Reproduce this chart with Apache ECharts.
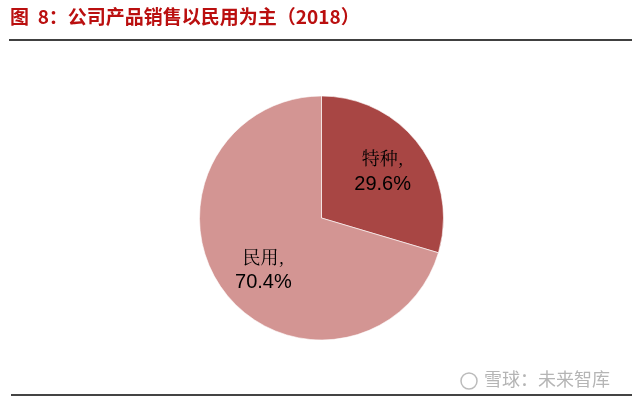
<!DOCTYPE html>
<html>
<head>
<meta charset="utf-8">
<script src="https://cdn.jsdelivr.net/npm/echarts@6/dist/echarts.min.js"></script>
<style>
html,body{margin:0;padding:0;background:#fff;}
#c{width:632px;height:400px;}
</style>
</head>
<body>
<div id="c"></div>
<script>
var titleText = '图  8：公司产品销售以民用为主（2018）';
var categories = ['特种', '民用'];
var values = [29.6, 70.4];
var colors = ['#A84644', '#D39593'];
var watermark = '雪球：未来智库';

var data = categories.map(function (c, i) {
  return { name: c, value: values[i], itemStyle: { color: colors[i] } };
});
var labelData = categories.map(function (c, i) {
  return { name: c, value: values[i] };
});
var labelNudge = [[-3, 1], [6, 4]];

var chart = echarts.init(document.getElementById('c'), null, { renderer: 'canvas' });
chart.setOption({
  animation: false,
  backgroundColor: '#fff',
  graphic: [
    { type: 'text', left: 10, top: 7, style: { text: titleText, fill: '#BA0F0F', font: 'bold 19px "Noto Sans CJK SC", sans-serif' } },
    { type: 'line', shape: { x1: 9, y1: 40, x2: 632, y2: 40 }, style: { stroke: '#000', lineWidth: 1.5 } },
    { type: 'line', shape: { x1: 11, y1: 395, x2: 632, y2: 395 }, style: { stroke: '#444', lineWidth: 2 } },
    { type: 'circle', shape: { cx: 469, cy: 381, r: 8 }, style: { fill: 'none', stroke: '#bbb', lineWidth: 1.5 } },
    { type: 'text', left: 484, top: 370, style: { text: watermark, fill: '#b5b5b5', font: '18px "Noto Sans CJK SC", sans-serif' } }
  ],
  series: [
    {
      type: 'pie',
      center: [321.5, 218],
      radius: [0, 122],
      startAngle: 90,
      clockwise: true,
      silent: true,
      itemStyle: { borderColor: '#fff', borderWidth: 0.6 },
      label: { show: false },
      labelLine: { show: false },
      data: data
    },
    {
      type: 'pie',
      center: [321.5, 218],
      radius: [32, 122],
      startAngle: 90,
      clockwise: true,
      silent: true,
      itemStyle: { color: 'rgba(0,0,0,0)' },
      label: {
        show: true,
        position: 'inside',
        formatter: function (p) { return '{a|' + p.name + ',}\n{b|' + p.value.toFixed(1) + '%}'; },
        rich: {
          a: { fontFamily: '"Noto Serif CJK SC", "Noto Sans CJK SC", serif', fontSize: 18, color: '#000', lineHeight: 26 },
          b: { fontFamily: '"Liberation Sans", Arial, sans-serif', fontSize: 20, color: '#000', lineHeight: 26 }
        }
      },
      labelLayout: function (p) {
        var n = labelNudge[p.dataIndex] || [0, 0];
        return { dx: n[0], dy: n[1] };
      },
      labelLine: { show: false },
      data: labelData
    }
  ]
});
</script>
</body>
</html>
